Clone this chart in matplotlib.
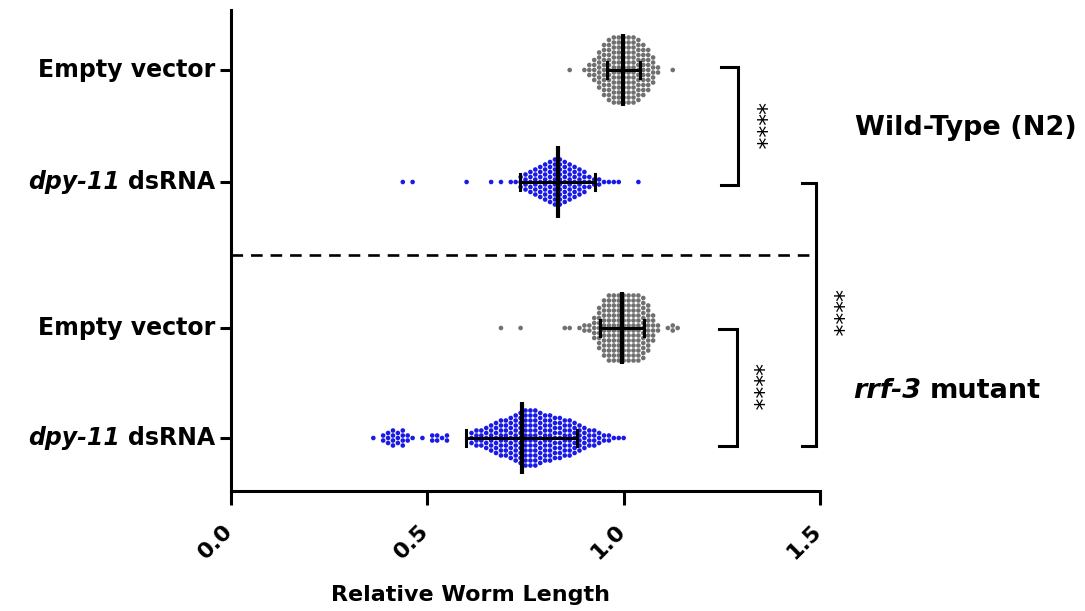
import matplotlib
matplotlib.use("Agg")
import matplotlib.pyplot as plt
import matplotlib.transforms as mtransforms

plt.rcParams['font.family'] = ['DejaVu Sans']

# ---------------- data ----------------
row_labels = ["Empty vector", "dpy-11 dsRNA", "Empty vector", "dpy-11 dsRNA"]
strain_labels = ["Wild-Type (N2)", "rrf-3 mutant"]
x_ticks = [0.0, 0.5, 1.0, 1.5]
x_tick_labels = ["0.0", "0.5", "1.0", "1.5"]
x_label = "Relative Worm Length"
sig_label = "****"

# Wild-type, empty vector
wt_ev_values = [0.8625, 0.9, 0.9125, 0.925, 0.9375, 0.95, 0.9625, 0.975, 0.9875, 1.0,
                1.0125, 1.025, 1.0375, 1.05, 1.0625, 1.075, 1.0875, 1.125]
wt_ev_counts = [1, 1, 3, 5, 8, 11, 13, 14, 14, 14,
                14, 14, 13, 11, 9, 6, 2, 1]

# Wild-type, dpy-11 dsRNA
wt_dpy_values = [0.4375, 0.4625, 0.6, 0.6625, 0.6875, 0.7125, 0.725, 0.7375, 0.75, 0.7625,
                 0.775, 0.7875, 0.8, 0.8125, 0.825, 0.8375, 0.85, 0.8625, 0.875, 0.8875,
                 0.9, 0.9125, 0.925, 0.9375, 0.95, 0.9625, 0.975, 0.9875, 1.0375]
wt_dpy_counts = [1, 1, 1, 1, 1, 1, 1, 3, 4, 5,
                 6, 7, 8, 9, 10, 10, 9, 8, 7, 6,
                 5, 3, 2, 2, 1, 1, 1, 1, 1]

# rrf-3, empty vector
rrf_ev_values = [0.6875, 0.7375, 0.85, 0.8625, 0.8875, 0.9, 0.9125, 0.925, 0.9375, 0.95,
                 0.9625, 0.975, 0.9875, 1.0, 1.0125, 1.025, 1.0375, 1.05, 1.0625, 1.075,
                 1.0875, 1.1125, 1.125, 1.1375]
rrf_ev_counts = [1, 1, 1, 1, 1, 2, 2, 5, 9, 12,
                 14, 14, 14, 14, 14, 14, 14, 13, 10, 6,
                 2, 1, 2, 1]

# rrf-3, dpy-11 dsRNA
rrf_dpy_values = [0.3625, 0.3875, 0.4, 0.4125, 0.425, 0.4375, 0.45, 0.4625, 0.4875, 0.5125,
                  0.525, 0.5375, 0.55, 0.6125, 0.625, 0.6375, 0.65, 0.6625, 0.675, 0.6875,
                  0.7, 0.7125, 0.725, 0.7375, 0.75, 0.7625, 0.775, 0.7875, 0.8, 0.8125,
                  0.825, 0.8375, 0.85, 0.8625, 0.875, 0.8875, 0.9, 0.9125, 0.925, 0.9375,
                  0.95, 0.9625, 0.975, 0.9875, 1.0]
rrf_dpy_counts = [1, 2, 3, 4, 3, 4, 2, 1, 1, 2,
                  2, 1, 2, 3, 4, 4, 5, 6, 7, 8,
                  8, 9, 10, 11, 12, 12, 12, 11, 10, 10,
                  9, 9, 8, 8, 7, 6, 5, 4, 4, 3,
                  2, 2, 1, 1, 1]

group_means = [0.999, 0.832, 0.997, 0.740]
group_sds = [0.042, 0.095, 0.056, 0.141]
group_colors = ['#707070', '#1a1ae6', '#707070', '#1a1ae6']

all_values = [wt_ev_values, wt_dpy_values, rrf_ev_values, rrf_dpy_values]
all_counts = [wt_ev_counts, wt_dpy_counts, rrf_ev_counts, rrf_dpy_counts]

# ---------------- layout ----------------
row_y = [70, 182, 328, 438]       # vertical positions (pixel-like units)
divider_y = 255
dot_step = 5.0

fig = plt.figure(figsize=(10.85, 6.11), dpi=100)
ax = fig.add_axes([231 / 1085, 120 / 611, 589 / 1085, 481 / 611])
ax.set_xlim(0, 1.5)
ax.set_ylim(491, 10)

for s in ['top', 'right']:
    ax.spines[s].set_visible(False)
for s in ['left', 'bottom']:
    ax.spines[s].set_linewidth(2.2)

# swarm dots
for vals, cnts, yc, col in zip(all_values, all_counts, row_y, group_colors):
    xs, ys = [], []
    for v, c in zip(vals, cnts):
        for k in range(c):
            xs.append(v)
            ys.append(yc + (k - (c - 1) / 2.0) * dot_step)
    ax.scatter(xs, ys, s=11, color=col, edgecolors='none', zorder=2)

# mean and SD bars
for m, sd, yc in zip(group_means, group_sds, row_y):
    ax.plot([m, m], [yc - 36, yc + 36], color='black', lw=3.0, zorder=4,
            solid_capstyle='butt')
    ax.plot([m - sd, m + sd], [yc, yc], color='black', lw=2.2, zorder=4)
    for e in (m - sd, m + sd):
        ax.plot([e, e], [yc - 8, yc + 8], color='black', lw=2.2, zorder=4)

# dashed divider
ax.plot([0, 1.473], [divider_y, divider_y], color='black', lw=1.9,
        linestyle=(0, (4.4, 3.0)), zorder=3)

# brackets
def bracket(x0, x1, y0, y1):
    ax.plot([x0, x1, x1, x0], [y0, y0, y1, y1], color='black', lw=2.2,
            clip_on=False, solid_joinstyle='miter', zorder=3)

bracket(1.249, 1.290, row_y[0] - 3, row_y[1] + 3)
bracket(1.453, 1.491, row_y[1] + 1, row_y[3] + 8)
bracket(1.242, 1.288, row_y[2] + 1, row_y[3] + 8)

star_kw = dict(rotation=270, ha='center', va='center', fontsize=17, clip_on=False)
ax.text(1.336, (row_y[0] + row_y[1]) / 2, sig_label, **star_kw)
ax.text(1.532, 313, sig_label, **star_kw)
ax.text(1.328, (row_y[2] + row_y[3] + 8) / 2, sig_label, **star_kw)

# axes ticks
ax.set_xticks(x_ticks)
ax.set_xticklabels([])
ax.tick_params(axis='x', length=10, width=2.2, direction='out')
ax.set_yticks(row_y)
ax.set_yticklabels([])
ax.tick_params(axis='y', length=8, width=2.2, direction='out')

xt_tr = mtransforms.blended_transform_factory(ax.transData, ax.transAxes)
for xv, lab in zip(x_ticks, x_tick_labels):
    ax.text(xv - 0.022, -0.062, lab, transform=xt_tr, rotation=45, ha='right',
            va='top', rotation_mode='anchor', fontsize=16, fontweight='bold')

ax.text(0.407, -0.216, x_label, transform=ax.transAxes, ha='center', va='center',
        fontsize=16, fontweight='bold')

fig.canvas.draw()
renderer = fig.canvas.get_renderer()
ylab_tr = mtransforms.blended_transform_factory(ax.transAxes, ax.transData)
lab_x = -16 / 589
for lab, yc in zip(row_labels, row_y):
    if lab.startswith("dpy-11"):
        t = ax.text(lab_x, yc, "dsRNA", transform=ylab_tr, ha='right', va='center',
                    fontsize=17, fontweight='bold')
        w = t.get_window_extent(renderer).width
        tr2 = mtransforms.offset_copy(ylab_tr, fig=fig, x=-(w + 8), y=0, units='dots')
        ax.text(lab_x, yc, "dpy-11", transform=tr2, ha='right', va='center',
                fontsize=17, fontweight='bold', style='italic')
    else:
        ax.text(lab_x, yc, lab, transform=ylab_tr, ha='right', va='center',
                fontsize=17, fontweight='bold')

rl_tr = mtransforms.blended_transform_factory(fig.transFigure, ax.transData)
fig.text(855 / 1085, 128, strain_labels[0], transform=rl_tr, ha='left', va='center',
         fontsize=19.5, fontweight='bold')
t = fig.text(853 / 1085, 391, "rrf-3", transform=rl_tr, ha='left', va='center',
             fontsize=19.5, fontweight='bold', style='italic')
w = t.get_window_extent(renderer).width
tr3 = mtransforms.offset_copy(rl_tr, fig=fig, x=w + 9, y=0, units='dots')
fig.text(853 / 1085, 391, "mutant", transform=tr3, ha='left', va='center',
         fontsize=19.5, fontweight='bold')

fig.savefig("out.png", dpi=100)
